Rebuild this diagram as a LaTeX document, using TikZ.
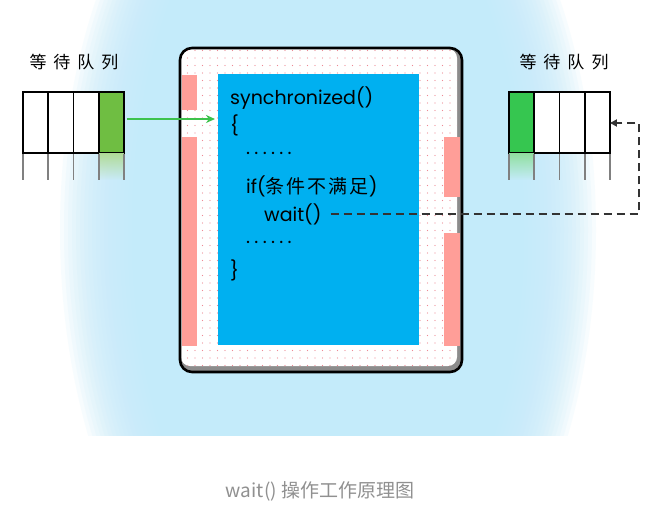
\documentclass[tikz,border=0pt]{standalone}
\usepackage{fontspec}
\newfontfamily\cjk{Noto Sans CJK SC}
\newfontfamily\codefont{Poppins}
\usetikzlibrary{arrows.meta,positioning,fadings,patterns.meta}

\definecolor{glowblue}{HTML}{C4EBFA}
\definecolor{codeblue}{HTML}{00B0F0}
\definecolor{pinkbar}{HTML}{FF9E98}
\definecolor{dotpink}{HTML}{EE8A94}
\definecolor{boxgray}{HTML}{8C8C8C}
\definecolor{leftgreen}{HTML}{6FBE42}
\definecolor{rightgreen}{HTML}{36C650}
\definecolor{arrowgreen}{HTML}{3DC24C}
\definecolor{dashgray}{HTML}{333333}
\definecolor{captiongray}{HTML}{909090}

\begin{document}
\begin{tikzpicture}[
    x=1pt, y=-1pt,
    cell/.style={draw, line width=1.6pt, fill=white, minimum width=25.25pt, minimum height=61pt, inner sep=0pt, outer sep=0pt},
    qlabel/.style={font=\cjk\fontsize{17}{20}\selectfont},
    codeline/.style={anchor=west, inner sep=0pt, font=\codefont\fontsize{19}{23}\selectfont},
    greenarrow/.style={draw=arrowgreen, line width=1.8pt, -{Stealth[length=9pt, width=8pt]}},
    dashline/.style={draw=dashgray, line width=1.8pt, dash pattern=on 8pt off 5pt, -{Triangle[length=7pt, width=7pt]}}
]
    \useasboundingbox (0,0) rectangle (658,523);
    \fill[white] (0,0) rectangle (658,523);
    % blue glow behind the monitor
    \begin{scope}
        \clip (0,0) rectangle (658,435);
        \foreach \k in {0,...,19} {
            \pgfmathsetmacro\rx{268-4*\k}
            \pgfmathsetmacro\ry{460-4*\k}
            \fill[glowblue, opacity=0.13] (328,230) ellipse [x radius=\rx, y radius=\ry];
        }
        \fill[glowblue] (328,230) ellipse [x radius=188, y radius=380];
    \end{scope}

    % waiting queues
    \node[qlabel] (ltitle) at (74,62) {等\hspace{7pt}待\hspace{7pt}队\hspace{7pt}列};
    \node[cell] (l1) at (35.6,122.5) {};
    \node[cell, right=0pt of l1] (l2) {};
    \node[cell, right=0pt of l2] (l3) {};
    \node[cell, right=0pt of l3, fill=leftgreen] (l4) {};

    \node[qlabel] (rtitle) at (564,62) {等\hspace{7pt}待\hspace{7pt}队\hspace{7pt}列};
    \node[cell, fill=rightgreen] (r1) at (521.6,122.5) {};
    \node[cell, right=0pt of r1] (r2) {};
    \node[cell, right=0pt of r2] (r3) {};
    \node[cell, right=0pt of r3] (r4) {};

    % reflections under the queues
    \fill[leftgreen!55, path fading=south] (l4.south west) rectangle ([yshift=-27pt]l4.south east);
    \fill[rightgreen!55, path fading=south] (r1.south west) rectangle ([yshift=-27pt]r1.south east);
    \foreach \c in {l1.south west, l1.south east, l2.south east, l3.south east, l4.south east,
                    r1.south west, r1.south east, r2.south east, r3.south east, r4.south east}
        \foreach \i [evaluate=\i as \op using 0.25*(1-\i/27)] in {0,...,26}
            \draw[gray, line width=1.6pt, opacity=\op] ([yshift=-\i pt]\c) -- ++(0,1);

    % monitor
    \fill[boxgray, rounded corners=12pt] (180,48) rectangle (462,372);
    \fill[white, rounded corners=9pt] (181,49) rectangle (457,366);
    \fill[pattern={Dots[radius=0.7pt, distance=7.5pt]}, pattern color=dotpink, rounded corners=9pt] (181,49) rectangle (457,366);
    \fill[pinkbar] (182,75) rectangle (197,110);
    \fill[pinkbar] (182,137) rectangle (197,346);
    \fill[pinkbar] (444,137) rectangle (460,197);
    \fill[pinkbar] (444,233) rectangle (460,346);
    \node[fill=codeblue, minimum width=201pt, minimum height=271pt, inner sep=0pt, anchor=north west] (code) at (218,74) {};
    \draw[line width=2.6pt, rounded corners=12pt] (180,48) rectangle (462,372);

    % code
    \node[codeline] (sync) at (230,98) {synchronized()};
    \node[codeline] (open) at (230,125) {\{};
    \node[codeline] (dotsa) at (246,153) {.\hspace{4.3pt}.\hspace{4.3pt}.\hspace{4.3pt}.\hspace{4.3pt}.\hspace{4.3pt}.};
    \node[codeline] (cond) at (246,186) {if({\cjk 条\hspace{2pt}件\hspace{2pt}不\hspace{2pt}满\hspace{2pt}足})};
    \node[codeline] (wait) at (264,214) {wait()};
    \node[codeline] (dotsb) at (246,242) {.\hspace{4.3pt}.\hspace{4.3pt}.\hspace{4.3pt}.\hspace{4.3pt}.\hspace{4.3pt}.};
    \node[codeline] (close) at (230,270) {\}};

    % connectors
    \coordinate (bend) at (639,123);
    \draw[greenarrow, shorten <=3pt, shorten >=3pt] ([yshift=3.5pt]l4.east) -- ([yshift=3.5pt]l4.east -| code.west);
    \draw[dashline, shorten <=9pt] (wait.east) -| (bend) -- (bend -| r4.east);

    \node[font=\cjk\fontsize{19}{23}\selectfont, text=captiongray] (caption) at (320,491) {wait() 操作工作原理图};
\end{tikzpicture}
\end{document}
